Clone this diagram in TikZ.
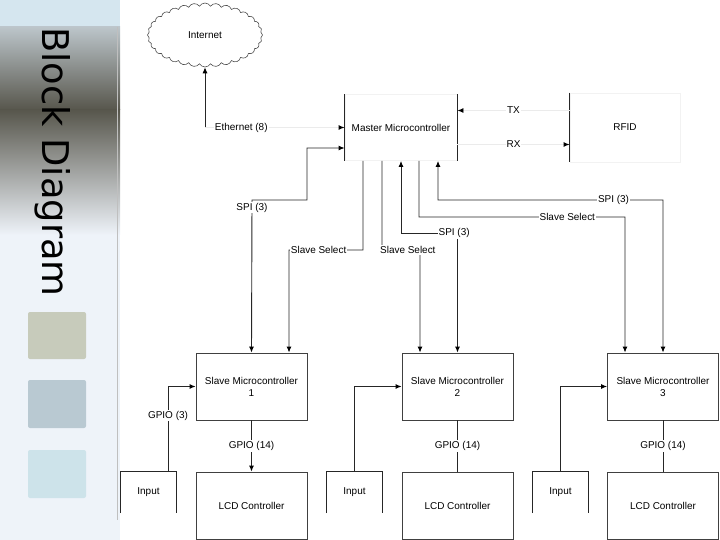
\documentclass[tikz,border=0pt]{standalone}
\usepackage{fontspec}
\setmainfont{Liberation Sans}
\newfontfamily\titlefont{DejaVu Sans}
\usetikzlibrary{shapes.symbols}
\usetikzlibrary{arrows.meta}
\definecolor{panelblue}{HTML}{D5E6EF}
\definecolor{panelpale}{HTML}{EEF3F9}
\definecolor{photolight}{HTML}{BCC5CA}
\definecolor{photodark}{HTML}{57564C}
\definecolor{swatchA}{HTML}{C7CBBB}
\definecolor{swatchB}{HTML}{B9C9D2}
\definecolor{swatchC}{HTML}{CDE3EA}
\tikzset{% 
	block/.style={draw=black!75,line width=0.9bp,minimum width=111bp,minimum height=67bp,inner sep=0pt,align=center,font=\fontsize{10}{12}\selectfont}
}
\tikzset{% 
	faint_block/.style={block,draw=black!5}
}
\tikzset{% 
	input_box/.style={minimum width=56bp,minimum height=41bp,inner sep=0pt,font=\fontsize{10}{12}\selectfont}
}
\tikzset{% 
	wire/.style={draw=black!85,line width=0.9bp},
	faint_wire/.style={draw=black!8,line width=0.9bp},
	arrow_end/.style={-{Latex[length=6bp,width=5bp,color=black]}},
	both_ends/.style={{Latex[length=6bp,width=5bp,color=black]}-{Latex[length=6bp,width=5bp,color=black]}},
	tag/.style={fill=white,inner sep=1bp,font=\fontsize{10}{12}\selectfont}
}

\begin{document}
\begin{tikzpicture}[x=1bp,y=-1bp]
		\useasboundingbox (0,0) rectangle (720,540);

		%Side panel
		\fill [panelblue] (0,0) rectangle (120,27);
		\shade [top color=photolight,bottom color=photodark] (0,27) rectangle (120,110);
		\shade [top color=photodark,bottom color=panelpale] (0,109.5) rectangle (120,235);
		\fill [panelpale] (0,235) rectangle (120,540);
		\draw [black!25,line width=1bp] (117,27) -- (117,520);
		\fill [swatchA,rounded corners=2bp] (28,312) rectangle (86,359);
		\fill [swatchB,rounded corners=2bp] (28,380) rectangle (86,428);
		\fill [swatchC,rounded corners=2bp] (28,450) rectangle (86,498);
		\node [rotate=-90,font=\titlefont\fontsize{37}{42}\selectfont] (title) at (53,162) {Block Diagram};

		%Top row
		\node [cloud,draw=black!70,line width=0.6bp,cloud puffs=32,cloud puff arc=120,cloud ignores aspect,minimum width=115bp,minimum height=64bp,font=\fontsize{10}{12}\selectfont] (internet) at (205,35) {Internet};
		\node [faint_block,minimum width=112bp,minimum height=66bp] (master) at (401,127.5) {Master Microcontroller};
		\draw [wire] (master.north west) -- (master.south west);
		\draw [wire] (master.north east) -- (master.south east);
		\node [faint_block,minimum width=110bp,minimum height=69bp] (rfid) at (625,127.5) {RFID};
		\draw [wire] (rfid.north west) -- (rfid.south west);

		%Slaves
		\node [block] (slave1) at (251.5,386.5) {Slave Microcontroller\\1};
		\node [block] (slave2) at (457.5,386.5) {Slave Microcontroller\\2};
		\node [block] (slave3) at (663,386.5) {Slave Microcontroller\\3};

		%Bottom row
		\node [block] (lcd1) at (251.5,505.5) {LCD Controller};
		\node [block] (lcd2) at (457.5,505.5) {LCD Controller};
		\node [block] (lcd3) at (663,505.5) {LCD Controller};
		\node [input_box] (input1) at (148.5,492.5) {Input};
		\node [input_box] (input2) at (354.5,492.5) {Input};
		\node [input_box] (input3) at (560.5,492.5) {Input};
		\draw [wire] (input1.south west) |- (input1.north east) -- (input1.south east);
		\draw [wire] (input2.south west) |- (input2.north east) -- (input2.south east);
		\draw [wire] (input3.south west) |- (input3.north east) -- (input3.south east);

		%Ethernet, TX and RX
		\draw [faint_wire,arrow_end] (internet.south |- master.west) -- node[tag,pos=0.26]{Ethernet (8)} (master.west);
		\draw [wire,arrow_end] (internet.south |- master.west) -- (internet.south);
		\draw [faint_wire,arrow_end] ([yshift=17bp]rfid.west) -- node[tag]{TX} ([yshift=17bp]master.east);
		\draw [faint_wire,arrow_end] ([yshift=-17bp]master.east) -- node[tag]{RX} ([yshift=-17bp]rfid.west);

		%Bends
		\coordinate (spi1_a) at (252,200);
		\coordinate (spi1_b) at (307,200);
		\coordinate (ss1_a) at (363,250);
		\coordinate (ss1_b) at (289,250);
		\coordinate (ss2_a) at (382,250);
		\coordinate (ss2_b) at (420,250);
		\coordinate (spi2_a) at (401,233);
		\coordinate (spi2_b) at (457.5,233);
		\coordinate (ss3_a) at (419,217);
		\coordinate (ss3_b) at (625,217);
		\coordinate (spi3_a) at (438,200);
		\coordinate (spi3_b) at (663,200);

		%Slave 1 lines
		\draw [wire,both_ends] (slave1.north) -- node[tag,pos=0.95]{SPI (3)} (spi1_a) -- (spi1_b) |- ([yshift=-20.5bp]master.west);
		\draw [wire,arrow_end] ([xshift=-38bp]master.south) -- (ss1_a) -- node[tag,pos=0.6]{Slave Select} (ss1_b) -- ([xshift=37.5bp]slave1.north);

		%Slave 2 lines
		\draw [wire,arrow_end] ([xshift=-19bp]master.south) -- (ss2_a) -- node[tag,pos=0.68]{Slave Select} (ss2_b) -- ([xshift=-37.5bp]slave2.north);
		\draw [wire,both_ends] (master.south) -- (spi2_a) -- node[tag,pos=0.94]{SPI (3)} (spi2_b) -- (slave2.north);

		%Slave 3 lines
		\draw [wire,arrow_end] ([xshift=18bp]master.south) -- (ss3_a) -- node[tag,pos=0.72]{Slave Select} (ss3_b) -- ([xshift=-38bp]slave3.north);
		\draw [wire,both_ends] ([xshift=37bp]master.south) -- (spi3_a) -- node[tag,pos=0.78]{SPI (3)} (spi3_b) -- (slave3.north);

		%GPIO
		\draw [wire,arrow_end] (slave1.south) -- node[tag]{GPIO (14)} (lcd1.north);
		\draw [wire] (slave2.south) -- node[tag]{GPIO (14)} (lcd2.north);
		\draw [wire] (slave3.south) -- node[tag]{GPIO (14)} (lcd3.north);
		\draw [wire,arrow_end] ([xshift=19.5bp]input1.north) |- node[tag,pos=0.33]{GPIO (3)} (slave1.west);
		\draw [wire,arrow_end] (input2.north) |- (slave2.west);
		\draw [wire,arrow_end] (input3.north) |- (slave3.west);

	\end{tikzpicture}
\end{document}
